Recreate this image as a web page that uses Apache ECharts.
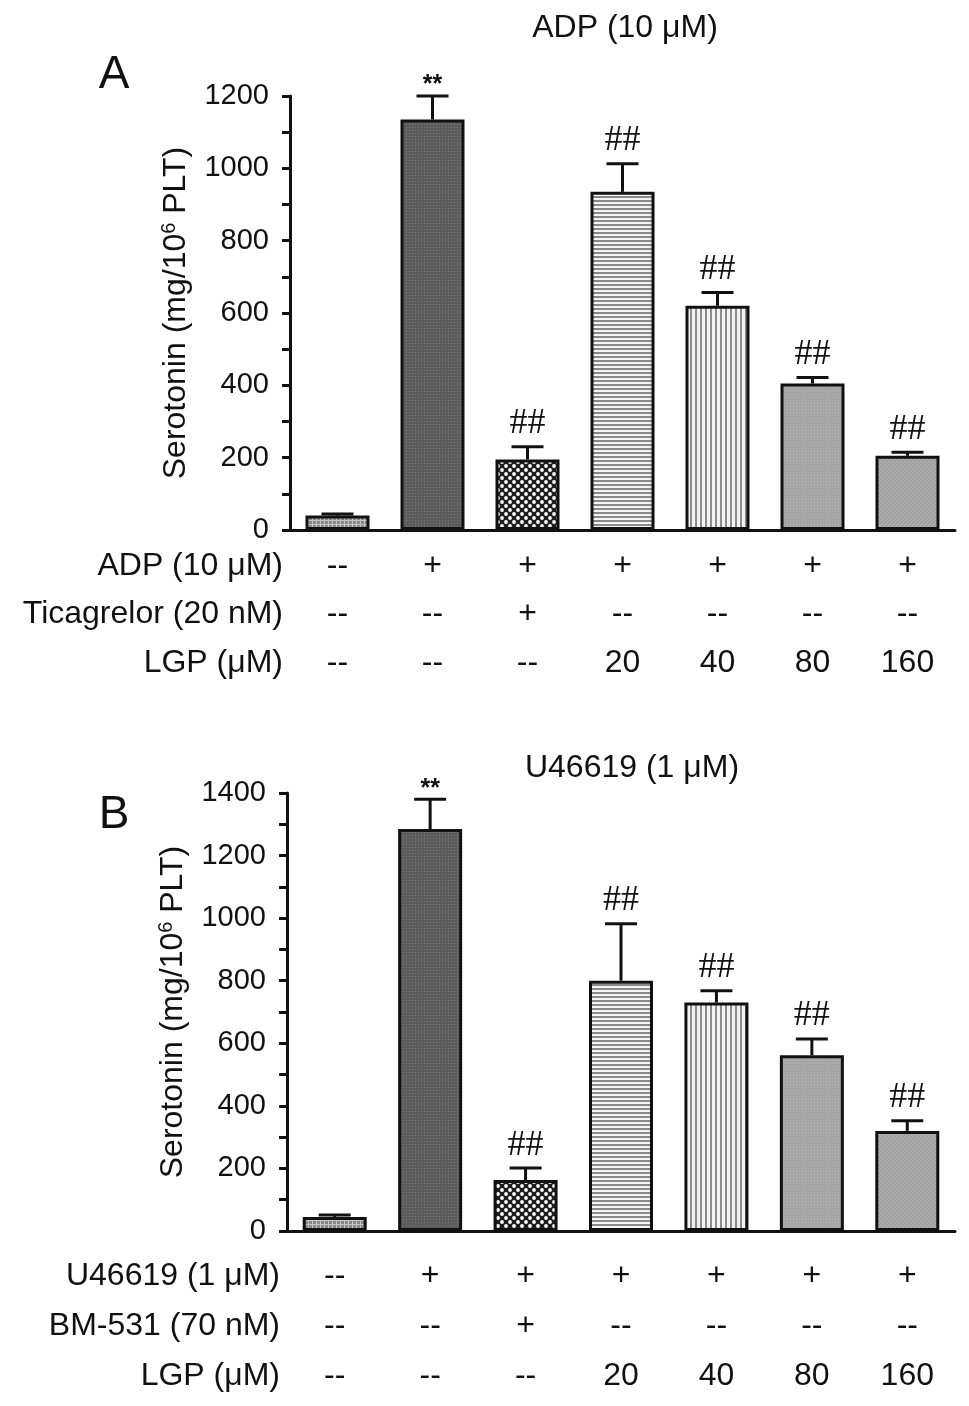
<!DOCTYPE html>
<html><head><meta charset="utf-8">
<script src="https://cdn.jsdelivr.net/npm/echarts@6/dist/echarts.min.js"></script>
<style>html,body{margin:0;padding:0;background:#fff}#c{width:969px;height:1406px}</style>
</head><body><div id="c"></div>
<script>
// ---- data ----
const groups = ['Control','Agonist','Antagonist','LGP20','LGP40','LGP80','LGP160'];
const meanA = [40, 1135, 195, 935, 620, 405, 205];
const errA  = [4, 65, 35, 78, 37, 17, 10];
const sigA  = ['', '**', '##', '##', '##', '##', '##'];
const meanB = [45, 1285, 163, 800, 730, 562, 320];
const errB  = [6, 95, 38, 182, 38, 52, 32];
const sigB  = ['', '**', '##', '##', '##', '##', '##'];
const rowTitlesA = ['ADP (10 \u03bcM)', 'Ticagrelor (20 nM)', 'LGP (\u03bcM)'];
const rowTitlesB = ['U46619 (1 \u03bcM)', 'BM-531 (70 nM)', 'LGP (\u03bcM)'];
const row1 = ['--','+','+','+','+','+','+'];
const row2 = ['--','--','+','--','--','--','--'];
const row3 = ['--','--','--','20','40','80','160'];
const yTicksA = {min:0, max:1200, interval:200};
const yTicksB = {min:0, max:1400, interval:200};

// ---- patterns ----
function tile(w, h, draw){const c=document.createElement('canvas');c.width=w;c.height=h;const g=c.getContext('2d');draw(g,w,h);return {image:c, repeat:'repeat'};}
const patterns = [
  tile(4,4,(g)=>{g.fillStyle='#888888';g.fillRect(0,0,4,4);g.fillStyle='#c4c4c4';g.fillRect(0,0,4,1);g.fillRect(0,0,1,4);}),
  tile(3,3,(g)=>{g.fillStyle='#5c5c5c';g.fillRect(0,0,3,3);g.fillStyle='#7a7a7a';g.fillRect(1,1,1,1);}),
  tile(8,8,(g)=>{g.fillStyle='#1e1e1e';g.fillRect(0,0,8,8);g.fillStyle='#fff';g.beginPath();g.arc(2,2,1.9,0,Math.PI*2);g.fill();g.beginPath();g.arc(6,6,1.9,0,Math.PI*2);g.fill();}),
  tile(4,4,(g)=>{g.fillStyle='#f4f4f4';g.fillRect(0,0,4,4);g.fillStyle='#8a8a8a';g.fillRect(0,0,4,2);}),
  tile(5,5,(g)=>{g.fillStyle='#f2f2f2';g.fillRect(0,0,5,5);g.fillStyle='#8c8c8c';g.fillRect(0,0,2,5);}),
  tile(3,3,(g)=>{g.fillStyle='#a6a6a6';g.fillRect(0,0,3,3);g.fillStyle='#b4b4b4';g.fillRect(1,1,1,1);}),
  tile(4,4,(g)=>{g.fillStyle='#ababab';g.fillRect(0,0,4,4);g.fillStyle='#9a9a9a';for(let i=0;i<4;i++)g.fillRect(i,3-i,1,1);})
];

const FONT = "'Liberation Sans', Arial, sans-serif";
const INK = '#111';
const TXT = 32;

function errSeries(gi, means, errs, sigs){
  return {
    type:'custom', xAxisIndex: gi*4, yAxisIndex: gi, z: 5,
    data: means.map((m,i)=>[i, m, errs[i]]),
    renderItem(params, api){
      const i = api.value(0), v = api.value(1), e = api.value(2);
      const b = api.coord([i, v]), t = api.coord([i, v+e]);
      const hw = 16;
      const ch = [
        {type:'line', shape:{x1:b[0],y1:b[1],x2:t[0],y2:t[1]}, style:{stroke:INK,lineWidth:3}},
        {type:'line', shape:{x1:t[0]-hw,y1:t[1],x2:t[0]+hw,y2:t[1]}, style:{stroke:INK,lineWidth:3}}
      ];
      const s = sigs[params.dataIndex];
      if (s) {
        const star = s === '**';
        ch.push({type:'text', x:t[0], y:t[1]-(star?-2:5), style:{text:s, fill:INK,
          font: star ? ('bold 25px ' + FONT) : "36px 'Liberation Serif', serif",
          align:'center', verticalAlign:'bottom', textAlign:'center', textVerticalAlign:'bottom'}});
      }
      return {type:'group', children: ch};
    }
  };
}

function axesFor(gi, titles, offs){
  const main = {gridIndex:gi, type:'category', data:groups,
    axisLine:{lineStyle:{color:INK,width:3}}, axisTick:{show:false}, axisLabel:{show:false}};
  const rows = [row1,row2,row3].map((r,k)=>({
    gridIndex:gi, type:'category', data:r, position:'bottom', offset:offs[k],
    axisLine:{show:false}, axisTick:{show:false},
    axisLabel:{fontSize:TXT, fontFamily:FONT, color:INK, margin:0, verticalAlign:'middle', interval:0},
    name: titles[k], nameLocation:'start', nameGap:7,
    nameTextStyle:{fontSize:TXT, fontFamily:FONT, color:INK, verticalAlign:'middle', align:'right'}
  }));
  return [main].concat(rows);
}

function yAxisFor(gi, t){
  return {gridIndex:gi, type:'value', min:t.min, max:t.max, interval:t.interval,
    axisLine:{show:true, lineStyle:{color:INK,width:3}},
    axisTick:{show:true, length:8, lineStyle:{color:INK,width:3}},
    minorTick:{show:true, splitNumber:2, length:8, lineStyle:{color:INK,width:3}},
    splitLine:{show:false},
    axisLabel:{fontSize:29, fontFamily:FONT, color:INK, margin:21, formatter:(v)=>String(v)},
    name:'Serotonin (mg/10{sup|6} PLT)', nameLocation:'middle', nameRotate:90, nameGap:97,
    nameTextStyle:{fontSize:32, fontFamily:FONT, color:INK,
      rich:{sup:{fontSize:20, fontFamily:FONT, color:INK, verticalAlign:'top', lineHeight:34}}}
  };
}

function barSeries(gi, means){
  return {type:'bar', xAxisIndex: gi*4, yAxisIndex: gi, barWidth:64, z:3,
    data: means.map((v,i)=>({value:v, itemStyle:{color:patterns[i]}})),
    itemStyle:{borderColor:INK, borderWidth:3}, emphasis:{disabled:true}};
}

const chart = echarts.init(document.getElementById('c'), null, {renderer:'canvas'});
chart.setOption({
  animation:false,
  backgroundColor:'#fff',
  grid:[
    {left:290, top:96, width:665, height:434},
    {left:287, top:793, width:668, height:438}
  ],
  xAxis: axesFor(0, rowTitlesA, [36,84,133]).concat(axesFor(1, rowTitlesB, [45,95,145])),
  yAxis: [yAxisFor(0, yTicksA), yAxisFor(1, yTicksB)],
  series: [barSeries(0, meanA), errSeries(0, meanA, errA, sigA), barSeries(1, meanB), errSeries(1, meanB, errB, sigB)],
  graphic:[
    {type:'text', x:625, y:28, style:{text:'ADP (10 \u03bcM)', font:TXT+'px '+FONT, fill:INK, align:'center', verticalAlign:'middle', textAlign:'center', textVerticalAlign:'middle'}},
    {type:'text', x:114, y:75, style:{text:'A', font:'46px '+FONT, fill:INK, align:'center', verticalAlign:'middle', textAlign:'center', textVerticalAlign:'middle'}},
    {type:'text', x:632, y:768, style:{text:'U46619 (1 \u03bcM)', font:TXT+'px '+FONT, fill:INK, align:'center', verticalAlign:'middle', textAlign:'center', textVerticalAlign:'middle'}},
    {type:'text', x:114, y:815, style:{text:'B', font:'46px '+FONT, fill:INK, align:'center', verticalAlign:'middle', textAlign:'center', textVerticalAlign:'middle'}}
  ]
});
</script></body></html>
